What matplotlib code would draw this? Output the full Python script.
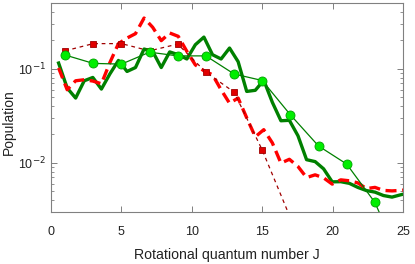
import numpy as np
import matplotlib.pyplot as plt
from matplotlib.ticker import LogLocator, NullFormatter, FixedLocator

plt.rcParams['font.family'] = ['Liberation Sans', 'DejaVu Sans']

# ---- data ----
# coarse model results (odd J)
J_sq = [1, 3, 5, 7, 9, 11, 13, 15, 17, 19]
pop_sq = [0.155, 0.185, 0.185, 0.155, 0.183, 0.092, 0.0565, 0.0137, 0.0026, 0.0004]

J_circ = [1, 3, 5, 7, 9, 11, 13, 15, 17, 19, 21, 23, 25]
pop_circ = [0.14, 0.114, 0.112, 0.15, 0.137, 0.137, 0.088, 0.075, 0.0324, 0.0151, 0.0097, 0.0038, 0.0008]

# fine grid results
J_fine = [0.54, 1.15, 1.75, 2.36, 2.97, 3.58, 4.18, 4.79, 5.40, 6.00,
          6.61, 7.22, 7.83, 8.43, 9.04, 9.65, 10.25, 10.86, 11.47, 12.08,
          12.68, 13.29, 13.90, 14.51, 15.11, 15.72, 16.33, 16.93, 17.54, 18.15,
          18.76, 19.36, 19.97, 20.58, 21.19, 21.79, 22.40, 23.01, 23.61, 24.22,
          24.83, 25.44]
pop_green = [0.115, 0.0624, 0.0488, 0.0745, 0.0808, 0.0608, 0.088, 0.1225, 0.0936, 0.103,
             0.162, 0.153, 0.103, 0.151, 0.141, 0.127, 0.180, 0.217, 0.141, 0.127,
             0.166, 0.119, 0.0574, 0.059, 0.0755, 0.044, 0.028, 0.0283, 0.0194, 0.0108,
             0.0103, 0.00863, 0.00628, 0.0063, 0.00605, 0.00548, 0.00507, 0.00488, 0.00449, 0.00432,
             0.00457, 0.0048]
pop_red = [0.102, 0.0598, 0.0745, 0.0764, 0.074, 0.0692, 0.116, 0.185, 0.212, 0.236,
           0.346, 0.276, 0.199, 0.240, 0.221, 0.153, 0.110, 0.0952, 0.0863, 0.0598,
           0.043, 0.0488, 0.0301, 0.0189, 0.0225, 0.0163, 0.00993, 0.0109, 0.00914, 0.00697,
           0.00745, 0.00692, 0.00594, 0.00659, 0.00644, 0.00612, 0.00532, 0.00548, 0.00509, 0.00503,
           0.00509, 0.0052]

fig = plt.figure(figsize=(4.15, 2.64), dpi=100)
ax = fig.add_axes([51/415, 1 - 212/264, 352/415, 209/264])

ax.plot(J_sq, pop_sq, color="#a00000", lw=0.9, ls=(0, (3, 3)),
        marker="s", ms=5, mfc="#e00000", mec="#a00000", mew=0.6, zorder=3)
ax.plot(J_circ, pop_circ, color="#008000", lw=0.9,
        marker="o", ms=6.5, mfc="#00ee00", mec="#00a000", mew=0.6, zorder=3)
ax.plot(J_fine, pop_green, color="#008000", lw=2.4, zorder=2)
ax.plot(J_fine, pop_red, color="#ff0000", lw=2.4, ls=(0, (3.3, 1.7)), zorder=2)

ax.set_yscale("log")
ax.set_xlim(0, 25)
ax.set_ylim(0.003, 0.5)

ax.xaxis.set_major_locator(FixedLocator([0, 5, 10, 15, 20, 25]))
ax.yaxis.set_major_locator(FixedLocator([0.01, 0.1]))
ax.yaxis.set_major_formatter(plt.FuncFormatter(lambda v, p: "10$^{%d}$" % round(np.log10(v))))
ax.yaxis.set_minor_locator(LogLocator(base=10, subs=np.arange(2, 10)))
ax.yaxis.set_minor_formatter(NullFormatter())

ax.tick_params(which="both", direction="in", top=True, right=True, colors="#808080",
               labelcolor="#222222", labelsize=9)
ax.tick_params(which="major", length=4, width=0.7)
ax.tick_params(which="minor", length=2, width=0.6)
ax.tick_params(axis="x", pad=10)
for s in ax.spines.values():
    s.set_color("#808080")
    s.set_linewidth(0.8)

ax.set_xlabel("Rotational quantum number J", fontsize=10.2, color="#222222")
ax.set_ylabel("Population", fontsize=10, color="#222222")
ax.xaxis.set_label_coords(0.5, -0.17)
ax.yaxis.set_label_coords(-0.1, 0.43)

fig.savefig("out.png", dpi=100)
